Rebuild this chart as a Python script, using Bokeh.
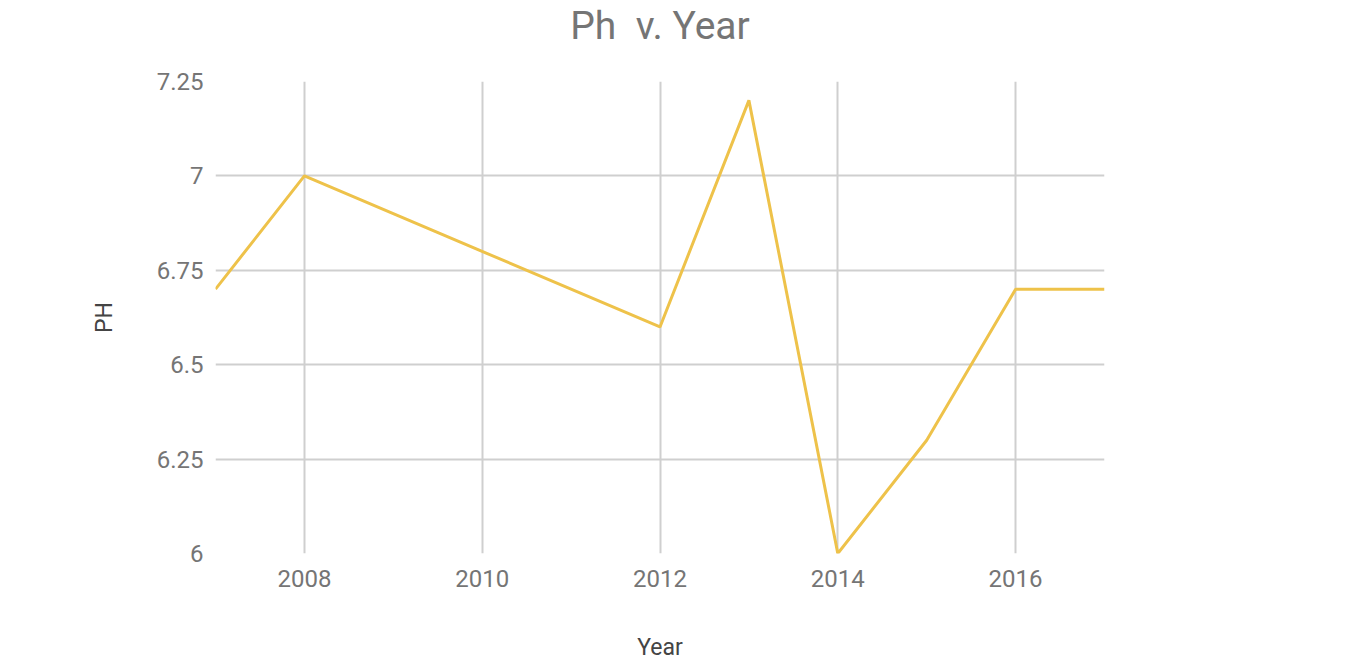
from bokeh.plotting import figure
from bokeh.models import Range1d, FixedTicker, Legend, LegendItem, Title
from bokeh.embed import file_html
from bokeh.resources import INLINE

years = [2007, 2008, 2012, 2013, 2014, 2015, 2016, 2017]
ph = [6.7, 7.0, 6.6, 7.2, 6.0, 6.3, 6.7, 6.7]
x_ticks = [2008, 2010, 2012, 2014, 2016]
y_ticks = [6.0, 6.25, 6.5, 6.75, 7.0, 7.25]
y_tick_labels = ["6", "6.25", "6.5", "6.75", "7", "7.25"]
title_text = "Ph \u00a0v. Year"

LINE = "#EEC24A"
FONT = "Roboto"

p = figure(frame_width=889, frame_height=472, output_backend="svg", toolbar_location=None,
           x_range=Range1d(2007, 2017), y_range=Range1d(6, 7.25),
           min_border_left=215, min_border_right=0, min_border_top=80, min_border_bottom=104)
p.outline_line_color = None
p.background_fill_color = "white"
p.border_fill_color = "white"

xa = p.below[0]
ya = p.left[0]

r = p.line(years, ph, line_color=LINE, line_width=3)
# legend-key renderer: a single point, so it draws nothing in the plot area
key = p.line(x=years[:1], y=ph[:1], line_color=LINE, line_width=7)


def spacer(size):
    # blank title that only reserves `size` pixels in a side panel
    return Title(text=" ", text_font_size="1px", standoff=size - 3)


for ax in (xa, ya):
    ax.axis_line_color = None
    ax.major_tick_line_color = None
    ax.minor_tick_line_color = None
    ax.major_tick_out = 0
    ax.major_tick_in = 0
    ax.minor_tick_out = 0
    ax.minor_tick_in = 0
    ax.major_label_text_font = FONT
    ax.major_label_text_font_size = "24px"
    ax.major_label_text_color = "#757575"
    ax.axis_label_text_font = FONT
    ax.axis_label_text_font_size = "23px"
    ax.axis_label_text_font_style = "normal"
    ax.axis_label_text_color = "#444444"

xa.ticker = FixedTicker(ticks=x_ticks)
xa.major_label_standoff = 16
xa.axis_label = "Year"
xa.axis_label_standoff = 44

ya.ticker = FixedTicker(ticks=y_ticks)
ya.major_label_overrides = {v: s for v, s in zip(y_ticks, y_tick_labels)}
ya.major_label_standoff = 12
ya.axis_label = "PH"
ya.axis_label_standoff = 36

p.xgrid[0].ticker = FixedTicker(ticks=x_ticks)
p.ygrid[0].ticker = FixedTicker(ticks=y_ticks)
for g in (p.xgrid[0], p.ygrid[0]):
    g.grid_line_color = "#cfcfcf"
    g.grid_line_width = 2

# spacer next to the frame, then the title outside it
p.add_layout(spacer(33), "above")
p.add_layout(Title(text=title_text, align="center", text_font=FONT, text_font_size="39px",
                   text_color="#757575", text_font_style="normal", standoff=0), "above")

# spacer next to the frame, then the legend
p.add_layout(spacer(41), "right")
legend = Legend(items=[LegendItem(label=" ", renderers=[key])],
                location="top_left", padding=0, margin=0, spacing=0,
                glyph_width=22, glyph_height=2, label_height=2, label_width=4,
                label_standoff=0, label_text_font_size="1px", border_line_color=None,
                background_fill_alpha=0)
p.add_layout(legend, "right")

open("out.html", "w").write(file_html(p, INLINE))
